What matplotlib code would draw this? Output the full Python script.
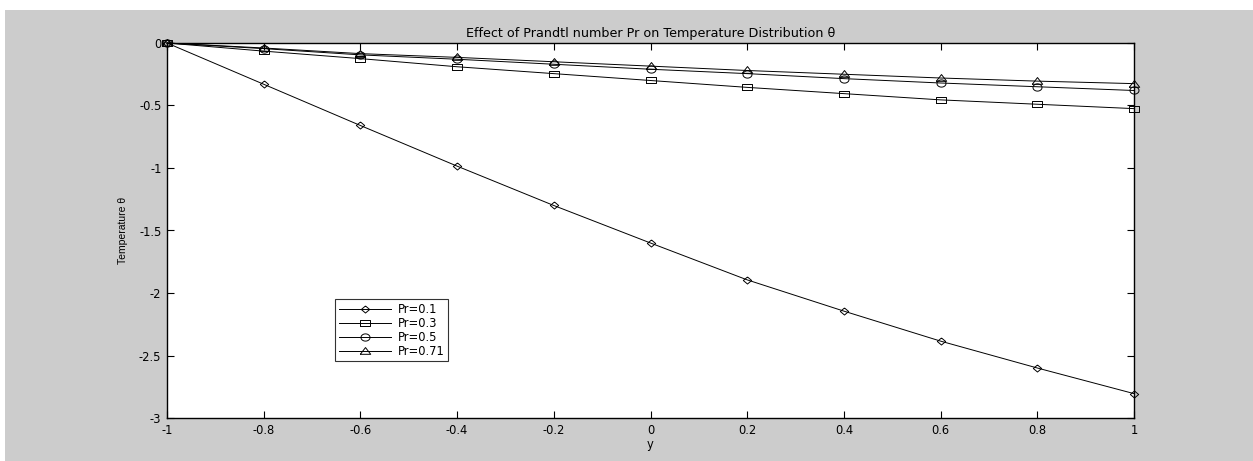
import matplotlib
matplotlib.use("Agg")
import numpy as np
import matplotlib.pyplot as plt
from matplotlib.patches import Rectangle

y_vals = [-1.0, -0.8, -0.6, -0.4, -0.2, 0.0, 0.2, 0.4, 0.6, 0.8, 1.0]
theta_pr01 = [0, -0.33, -0.66, -0.985, -1.30, -1.60, -1.895, -2.145, -2.385, -2.60, -2.805]
theta_pr03 = [0, -0.065, -0.125, -0.19, -0.245, -0.30, -0.355, -0.405, -0.455, -0.49, -0.525]
theta_pr05 = [0, -0.045, -0.095, -0.13, -0.17, -0.21, -0.245, -0.285, -0.32, -0.35, -0.38]
theta_pr071 = [0, -0.04, -0.085, -0.115, -0.15, -0.185, -0.22, -0.25, -0.28, -0.305, -0.325]
labels = ["Pr=0.1", "Pr=0.3", "Pr=0.5", "Pr=0.71"]
xticks = [-1, -0.8, -0.6, -0.4, -0.2, 0, 0.2, 0.4, 0.6, 0.8, 1]
yticks = [0, -0.5, -1, -1.5, -2, -2.5, -3]

# horizontally stretched marker shapes (the reference image is widened)
sx = 1.0
sy = 0.72
diamond = [(0, sy), (sx * 0.85, 0), (0, -sy), (-sx * 0.85, 0), (0, sy)]
square = [(-sx, -sy), (sx, -sy), (sx, sy), (-sx, sy), (-sx, -sy)]
t = np.linspace(0, 2 * np.pi, 41)
ellipse = [(sx * 0.9 * np.cos(a), sy * np.sin(a)) for a in t]
triangle = [(-sx, -sy * 0.75), (sx, -sy * 0.75), (0, sy * 1.05), (-sx, -sy * 0.75)]
markers = [diamond, square, ellipse, triangle]
msizes = [6.0, 7.0, 6.5, 7.5]

plt.rcParams['font.family'] = ['DejaVu Sans']

W, H = 1253, 461
fig = plt.figure(figsize=(W / 100, H / 100), dpi=100, facecolor='white')
fig.patches.append(Rectangle((5 / W, 0), 1, 1 - 10 / H, transform=fig.transFigure,
                             facecolor='#cccccc', edgecolor='none', zorder=-10))

ax = fig.add_axes([167 / W, 1 - 418 / H, (1134 - 167) / W, (418 - 43) / H])
ax.set_facecolor('white')

series = [theta_pr01, theta_pr03, theta_pr05, theta_pr071]
for data, lab, m, ms in zip(series, labels, markers, msizes):
    ax.plot(y_vals, data, color='black', linewidth=0.7, marker=m, markersize=ms,
            markerfacecolor='none', markeredgecolor='black', markeredgewidth=0.7,
            label=lab, clip_on=False)

ax.set_xlim(-1, 1)
ax.set_ylim(-3, 0)
ax.set_xticks(xticks)
ax.set_xticklabels([("%g" % v) for v in xticks])
ax.set_yticks(yticks)
ax.set_yticklabels([("%g" % v) for v in yticks])
ax.tick_params(direction='in', length=5, width=0.8, top=True, right=True,
               labelsize=8.3, pad=4)
for s in ax.spines.values():
    s.set_linewidth(1.0)

ax.set_title("Effect of Prandtl number Pr on Temperature Distribution \u03b8",
             fontsize=9.2, pad=4)
ax.set_xlabel("y", fontsize=8.3, labelpad=1)
ax.set_ylabel("Temperature \u03b8", fontsize=7.5, labelpad=8,
              family=['Liberation Sans Narrow', 'Liberation Sans', 'DejaVu Sans'])

leg = ax.legend(loc='lower left', bbox_to_anchor=(0.174, 0.152), fontsize=8.3,
                frameon=True, fancybox=False, edgecolor='black', handlelength=4.5,
                borderpad=0.3, labelspacing=0.08, handletextpad=0.6, borderaxespad=0)
leg.get_frame().set_linewidth(0.8)

fig.savefig("out.png", dpi=100, facecolor=fig.get_facecolor())
